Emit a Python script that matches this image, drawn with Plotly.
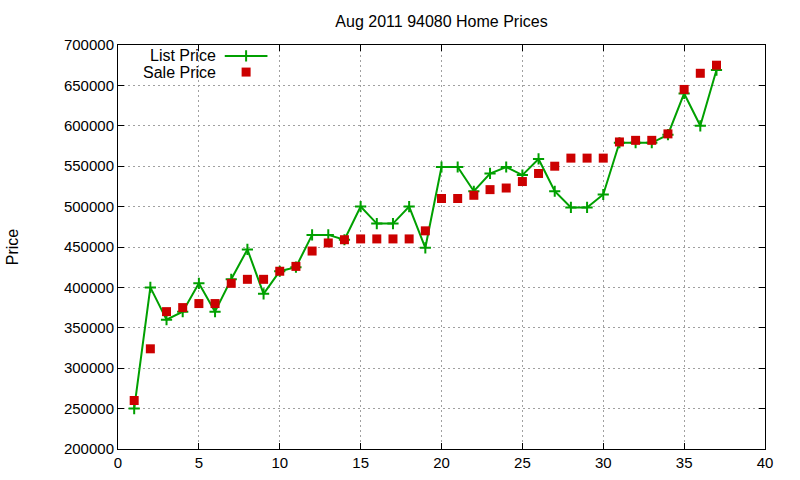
import plotly.graph_objects as go

x_vals = list(range(1, 38))
list_price = [250000, 400000, 360000, 370000, 405000, 370000, 410000, 447000, 392000, 420000,
              425000, 465000, 465000, 459000, 500000, 479000, 479000, 500000, 449000, 549000,
              549000, 519000, 541000, 549000, 539000, 559000, 519000, 499000, 499000, 515000,
              579000, 579000, 579000, 589000, 640000, 600000, 669000]
sale_price = [260000, 324000, 370000, 375000, 380000, 380000, 405000, 410000, 410000, 420000,
              426000, 445000, 455000, 459000, 460000, 460000, 460000, 460000, 470000, 510000,
              510000, 514000, 521000, 523000, 531000, 541000, 550000, 560000, 560000, 560000,
              580000, 582000, 582000, 590000, 645000, 665000, 675000]
x_ticks = [0, 5, 10, 15, 20, 25, 30, 35, 40]
y_ticks = [200000, 250000, 300000, 350000, 400000, 450000, 500000, 550000, 600000, 650000, 700000]

GREEN = "#00a000"
RED = "#cc0000"
FONT = "Liberation Sans, Arial, sans-serif"

fig = go.Figure()
fig.add_trace(go.Scatter(
    x=x_vals, y=list_price, mode="lines+markers", name="List Price",
    line=dict(color=GREEN, width=2),
    marker=dict(symbol="cross-thin", size=8, color=GREEN, line=dict(color=GREEN, width=2)),
))
fig.add_trace(go.Scatter(
    x=x_vals, y=sale_price, mode="markers", name="Sale Price",
    marker=dict(symbol="square", size=9, color=RED, line=dict(width=0)),
))

# legend samples drawn on an overlay axis (0..1 in both directions)
fig.add_trace(go.Scatter(
    x=[0.165, 0.231], y=[0.973, 0.973], mode="lines", xaxis="x2", yaxis="y2",
    line=dict(color=GREEN, width=2), hoverinfo="skip",
))
fig.add_trace(go.Scatter(
    x=[0.198], y=[0.973], mode="markers", xaxis="x2", yaxis="y2",
    marker=dict(symbol="cross-thin", size=8, color=GREEN, line=dict(color=GREEN, width=2)),
    hoverinfo="skip",
))
fig.add_trace(go.Scatter(
    x=[0.198], y=[0.933], mode="markers", xaxis="x2", yaxis="y2",
    marker=dict(symbol="square", size=9, color=RED, line=dict(width=0)),
    hoverinfo="skip",
))

axis_common = dict(
    showline=True, linecolor="black", linewidth=1, mirror="allticks",
    ticks="inside", ticklen=6, tickcolor="black", tickwidth=1,
    showgrid=True, gridcolor="#a0a0a0", griddash="2px,3px", gridwidth=1,
    zeroline=False, automargin=False,
    tickfont=dict(family=FONT, size=15, color="black"),
)

fig.update_layout(
    width=800, height=480,
    margin=dict(l=118, r=35, t=45, b=31, autoexpand=False),
    paper_bgcolor="white", plot_bgcolor="white",
    showlegend=False,
    title=dict(text="Aug 2011 94080 Home Prices", x=(118 + 765) / 2 / 800, xanchor="center",
               y=1 - 21 / 480, yanchor="middle",
               font=dict(family=FONT, size=16, color="black")),
    xaxis=dict(range=[0, 40], tickvals=x_ticks, **axis_common),
    yaxis=dict(range=[200000, 700000], tickvals=y_ticks, tickformat="d",
               title=dict(text="Price", font=dict(family=FONT, size=16, color="black"), standoff=41),
               **axis_common),
    xaxis2=dict(overlaying="x", range=[0, 1], visible=False),
    yaxis2=dict(overlaying="y", range=[0, 1], visible=False),
    annotations=[
        dict(text="List Price", x=0.155, y=0.973, xref="paper", yref="paper",
             xanchor="right", yanchor="middle", showarrow=False,
             font=dict(family=FONT, size=16, color="black")),
        dict(text="Sale Price", x=0.155, y=0.933, xref="paper", yref="paper",
             xanchor="right", yanchor="middle", showarrow=False,
             font=dict(family=FONT, size=16, color="black")),
    ],
)

fig.write_html("out.html")
